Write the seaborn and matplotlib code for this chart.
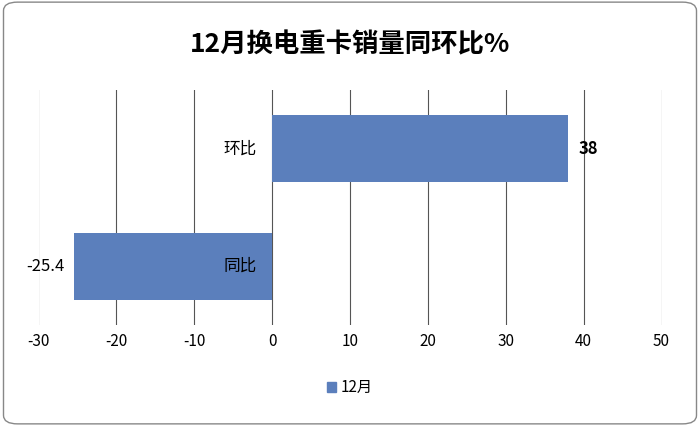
import matplotlib
matplotlib.use('Agg')
import matplotlib.pyplot as plt
import seaborn as sns
import pandas as pd
from matplotlib.patches import FancyBboxPatch, Patch

plt.rcParams['font.family'] = 'Noto Sans CJK SC'

categories = ['环比', '同比']
values = [38, -25.4]
series_name = '12月'
xticks = [-30, -20, -10, 0, 10, 20, 30, 40, 50]

df = pd.DataFrame({'cat': categories, 'val': values})
color = '#5B7FBC'

fig = plt.figure(figsize=(7, 4.26), dpi=100)
fig.patches.append(FancyBboxPatch((0.005, 0.005), 0.99, 0.99, boxstyle='round,pad=0,rounding_size=0.02',
                                  transform=fig.transFigure, fill=False, edgecolor='#888888', lw=1))
ax = fig.add_axes([0.055, 0.237, 0.89, 0.552])
sns.barplot(data=df, x='val', y='cat', orient='h', color=color, width=0.57, ax=ax, saturation=1)

ax.set_xlim(-30, 50)
ax.set_xticks(xticks)
ax.set_xticklabels([str(t) for t in xticks], fontsize=11)
ax.tick_params(axis='x', length=0, pad=6)
ax.set_yticks([])
ax.set_xlabel('')
ax.set_ylabel('')
ax.grid(axis='x', color='#555555', lw=0.8)
ax.set_axisbelow(True)
for s in ax.spines.values():
    s.set_visible(False)

for i, (c, v) in enumerate(zip(categories, values)):
    ax.text(-2, i, c, ha='right', va='center', fontsize=12, zorder=5)
    if v >= 0:
        ax.text(v + 1.3, i, f'{v:g}', ha='left', va='center', fontsize=12, fontweight='bold')
    else:
        ax.text(v - 1.3, i, f'{v:g}', ha='right', va='center', fontsize=12)

fig.text(0.5, 0.895, '12月换电重卡销量同环比%', ha='center', va='center', fontsize=19, fontweight='bold')
fig.legend(handles=[Patch(color=color, label=series_name)], loc='center', bbox_to_anchor=(0.5, 0.09),
           frameon=False, fontsize=11, handlelength=0.6, handleheight=0.6, handletextpad=0.3)

fig.savefig('out.png', dpi=100)
